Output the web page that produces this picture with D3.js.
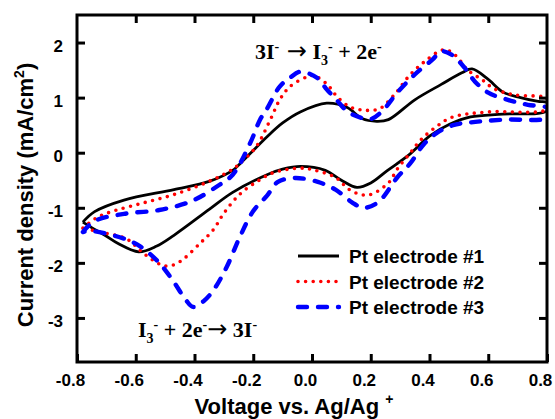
<!DOCTYPE html>
<html>
<head>
<meta charset="utf-8">
<script src="https://cdn.jsdelivr.net/npm/d3@7"></script>
<style>
	body { margin: 0; background: #fff; }
	svg { display: block; }
</style>
</head>
<body>
<div id="chart"></div>
<script>
// tick values / labels
const xTicks = [-0.8, -0.6, -0.4, -0.2, 0.0, 0.2, 0.4, 0.6, 0.8];
const xTickLabels = ['-0.8', '-0.6', '-0.4', '-0.2', '0.0', '0.2', '0.4', '0.6', '0.8'];
const yTicks = [-3, -2, -1, 0, 1, 2];
const yTickLabels = ['-3', '-2', '-1', '0', '1', '2'];

const seriesNames = ['Pt electrode #1', 'Pt electrode #2', 'Pt electrode #3'];

// [voltage, current density] along each CV loop (anodic sweep then cathodic sweep)
const pt1 = [
	[-0.78, -1.26], [-0.74, -1.07], [-0.64, -0.86], [-0.47, -0.67], [-0.35, -0.52], [-0.27, -0.32],
	[-0.245, -0.2], [-0.153, 0.29], [-0.1, 0.54], [-0.04, 0.74], [0.05, 0.9], [0.12, 0.82],
	[0.17, 0.62], [0.22, 0.57], [0.26, 0.6], [0.35, 0.96], [0.44, 1.24], [0.51, 1.45],
	[0.545, 1.52], [0.6, 1.33], [0.65, 1.1], [0.71, 1.0], [0.77, 0.93], [0.8, 0.91],
	[0.8, 0.76], [0.65, 0.7], [0.54, 0.65], [0.47, 0.52], [0.4, 0.3], [0.33, -0.04],
	[0.255, -0.33], [0.2, -0.55], [0.153, -0.63], [0.1, -0.5], [0.045, -0.32], [-0.04, -0.25],
	[-0.1, -0.3], [-0.153, -0.4], [-0.27, -0.72], [-0.35, -1.03], [-0.47, -1.5], [-0.53, -1.7],
	[-0.59, -1.8], [-0.66, -1.65], [-0.705, -1.5], [-0.75, -1.36], [-0.78, -1.26]
];
const pt2 = [
	[-0.78, -1.37], [-0.73, -1.17], [-0.67, -1.05], [-0.58, -0.92], [-0.47, -0.76], [-0.35, -0.52],
	[-0.27, -0.3], [-0.245, -0.19], [-0.19, 0.11], [-0.14, 0.62], [-0.11, 0.96], [-0.075, 1.2],
	[-0.02, 1.37], [0.005, 1.4], [0.05, 1.25], [0.085, 1.02], [0.13, 0.83], [0.18, 0.77],
	[0.23, 0.8], [0.28, 1.05], [0.33, 1.39], [0.385, 1.66], [0.45, 1.87], [0.49, 1.76],
	[0.53, 1.5], [0.58, 1.32], [0.62, 1.16], [0.69, 1.05], [0.8, 0.98],
	[0.8, 0.79], [0.6, 0.74], [0.48, 0.65], [0.425, 0.48], [0.37, 0.23], [0.335, 0.0],
	[0.29, -0.3], [0.26, -0.55], [0.19, -0.77], [0.13, -0.68], [0.08, -0.45], [0.01, -0.32],
	[-0.04, -0.28], [-0.13, -0.36], [-0.18, -0.5], [-0.245, -0.75], [-0.3, -1.1], [-0.336, -1.4],
	[-0.38, -1.64], [-0.45, -1.98], [-0.49, -2.06], [-0.52, -2.02], [-0.575, -1.82], [-0.63, -1.57],
	[-0.73, -1.43], [-0.78, -1.37]
];
const pt3 = [
	[-0.78, -1.44], [-0.74, -1.24], [-0.64, -1.11], [-0.52, -1.04], [-0.41, -0.88], [-0.32, -0.6],
	[-0.27, -0.4], [-0.21, 0.18], [-0.177, 0.6], [-0.153, 0.8], [-0.11, 1.2], [-0.075, 1.36],
	[-0.04, 1.47], [0.017, 1.36], [0.05, 1.15], [0.085, 0.95], [0.12, 0.75], [0.163, 0.64],
	[0.2, 0.61], [0.24, 0.76], [0.29, 1.09], [0.35, 1.42], [0.41, 1.69], [0.44, 1.84],
	[0.475, 1.78], [0.52, 1.54], [0.555, 1.29], [0.6, 1.09], [0.667, 0.96], [0.735, 0.87], [0.8, 0.81],
	[0.8, 0.64], [0.65, 0.6], [0.54, 0.55], [0.48, 0.5], [0.425, 0.36], [0.38, 0.15],
	[0.335, -0.19], [0.29, -0.45], [0.225, -0.9], [0.175, -1.0], [0.136, -0.9], [0.08, -0.67],
	[0.02, -0.53], [-0.058, -0.46], [-0.116, -0.53], [-0.153, -0.78], [-0.2, -1.06], [-0.245, -1.52],
	[-0.29, -2.07], [-0.336, -2.5], [-0.37, -2.7], [-0.405, -2.8], [-0.43, -2.67], [-0.47, -2.35],
	[-0.52, -2.0], [-0.585, -1.7], [-0.63, -1.58], [-0.7, -1.47], [-0.756, -1.42], [-0.78, -1.44]
];

const width = 555;
const height = 419;
const margin = { top: 15, right: 8, bottom: 57, left: 77 };

const styles = [
	{ color: '#000', width: 2.8, dash: null, cap: 'butt' },
	{ color: '#f00', width: 3.6, dash: '0 7.6', cap: 'round' },
	{ color: '#00f', width: 4.4, dash: '9 11', cap: 'round' },
];

const sans = 'Liberation Sans, Arial, sans-serif';
const serif = 'Liberation Serif, Times New Roman, serif';

const x = d3.scaleLinear().domain([-0.8, 0.8]).range([margin.left, width - margin.right]);
const y = d3.scaleLinear().domain([-3.8, 2.5]).range([height - margin.bottom, margin.top]);

const svg = d3.select('#chart')
	.append('svg')
	.attr('width', width)
	.attr('height', height)
	.attr('viewBox', [0, 0, width, height]);

svg.append('defs')
	.append('clipPath')
	.attr('id', 'plot-clip')
	.append('rect')
	.attr('x', margin.left)
	.attr('y', margin.top)
	.attr('width', width - margin.left - margin.right)
	.attr('height', height - margin.top - margin.bottom);

// curves
const line = d3.line()
	.x((d) => x(d[0]))
	.y((d) => y(d[1]))
	.curve(d3.curveCatmullRom.alpha(0.5));

const curves = svg.append('g').attr('clip-path', 'url(#plot-clip)');
[pt1, pt2, pt3].forEach((data, i) => {
	curves.append('path')
		.datum(data)
		.attr('d', line)
		.attr('fill', 'none')
		.attr('stroke', styles[i].color)
		.attr('stroke-width', styles[i].width)
		.attr('stroke-dasharray', styles[i].dash)
		.attr('stroke-linecap', styles[i].cap)
		.attr('stroke-linejoin', 'round');
});

// axes, ticks pointing inward on all four sides
const bottomAxis = svg.append('g')
	.attr('transform', `translate(0,${height - margin.bottom})`)
	.call(d3.axisBottom(x).tickValues(xTicks).tickFormat((d, i) => xTickLabels[i]).tickSizeInner(-8).tickSizeOuter(0).tickPadding(12));
bottomAxis.selectAll('text').attr('dx', -7);

svg.append('g')
	.attr('transform', `translate(0,${margin.top})`)
	.call(d3.axisTop(x).tickValues(xTicks.slice(1, -1)).tickFormat('').tickSizeInner(-8).tickSizeOuter(0));

const leftAxis = svg.append('g')
	.attr('transform', `translate(${margin.left},0)`)
	.call(d3.axisLeft(y).tickValues(yTicks).tickFormat((d, i) => yTickLabels[i]).tickSizeInner(-8).tickSizeOuter(0).tickPadding(14));
leftAxis.selectAll('text').attr('dy', '0.5em');

svg.append('g')
	.attr('transform', `translate(${width - margin.right},0)`)
	.call(d3.axisRight(y).tickValues(yTicks).tickFormat('').tickSizeInner(-8).tickSizeOuter(0));

svg.selectAll('.domain').remove();
svg.selectAll('.tick line').attr('stroke', '#000').attr('stroke-width', 3);
svg.selectAll('.tick text')
	.attr('fill', '#000')
	.style('font-family', sans)
	.style('font-size', '17px')
	.style('font-weight', 'bold');

// frame
svg.append('rect')
	.attr('x', margin.left)
	.attr('y', margin.top)
	.attr('width', width - margin.left - margin.right)
	.attr('height', height - margin.top - margin.bottom)
	.attr('fill', 'none')
	.attr('stroke', '#000')
	.attr('stroke-width', 3);

// axis titles
const xTitle = svg.append('text')
	.attr('x', 294)
	.attr('y', 414)
	.attr('text-anchor', 'middle')
	.style('font-family', sans)
	.style('font-size', '22px')
	.style('font-weight', 'bold')
	.text('Voltage vs. Ag/Ag ');
xTitle.append('tspan').attr('dy', -10).style('font-size', '14px').text('+');

const yTitle = svg.append('text')
	.attr('transform', 'translate(33,195) rotate(-90)')
	.attr('text-anchor', 'middle')
	.style('font-family', sans)
	.style('font-size', '22px')
	.style('font-weight', 'bold')
	.text('Current density (mA/cm');
yTitle.append('tspan').attr('dy', -9).style('font-size', '14px').text('2');
yTitle.append('tspan').attr('dy', 9).text(')');

// reaction labels
function reaction(xPos, yPos, parts) {
	const t = svg.append('text')
		.attr('x', xPos)
		.attr('y', yPos)
		.style('font-family', serif)
		.style('font-size', '22px')
		.style('font-weight', 'bold');
	let shift = 0;
	parts.forEach((p) => {
		const kind = p[1];
		const target = kind === 'sup' ? -8 : kind === 'sub' ? 6 : 0;
		const ts = t.append('tspan')
			.attr('dy', target - shift)
			.style('font-size', kind === 'sup' || kind === 'sub' ? '14px' : '22px')
			.text(p[0]);
		if (kind === 'arrow') {
			ts.style('font-family', 'DejaVu Sans, sans-serif').style('font-weight', 'normal').style('font-size', '24px');
		}
		shift = target;
	});
}

reaction(255, 59, [['3I'], ['-', 'sup'], [' \u2192', 'arrow'], [' I'], ['3', 'sub'], ['-', 'sup'], [' + 2e'], ['-', 'sup']]);
reaction(138, 337, [['I'], ['3', 'sub'], ['-', 'sup'], [' + 2e'], ['-', 'sup'], ['\u2192', 'arrow'], [' 3I'], ['-', 'sup']]);

// legend
const legend = svg.append('g');
seriesNames.forEach((name, i) => {
	const ly = 256 + i * 25.5;
	legend.append('line')
		.attr('x1', 298)
		.attr('x2', 339)
		.attr('y1', ly)
		.attr('y2', ly)
		.attr('stroke', styles[i].color)
		.attr('stroke-width', styles[i].width)
		.attr('stroke-dasharray', styles[i].dash)
		.attr('stroke-linecap', styles[i].cap);
	legend.append('text')
		.attr('x', 349)
		.attr('y', ly + 7)
		.style('font-family', sans)
		.style('font-size', '19px')
		.style('font-weight', 'bold')
		.text(name);
});
</script>
</body>
</html>
